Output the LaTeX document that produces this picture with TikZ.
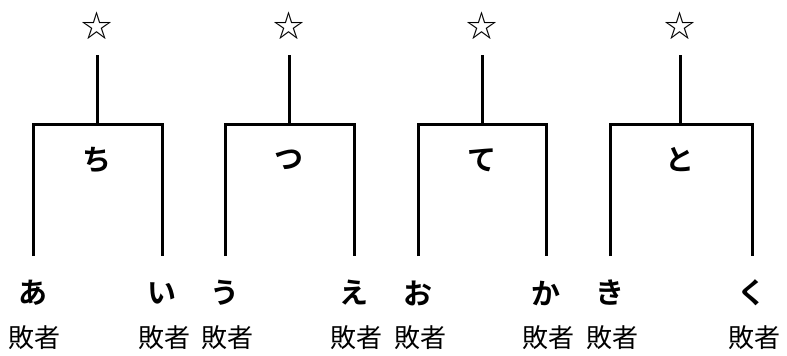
\documentclass[tikz,border=0pt]{standalone}
\usepackage{fontspec}
\newfontfamily\jp{Noto Sans CJK JP}
\newfontfamily\jpbold{Noto Sans CJK JP Bold}
\tikzset{
  kana/.style={font=\jpbold\fontsize{29}{29}\selectfont, inner sep=0pt},
  loser/.style={font=\jp\fontsize{26}{26}\selectfont, inner sep=0pt},
  winner/.style={font=\jp\fontsize{31}{31}\selectfont, inner sep=0pt},
  wire/.style={line width=3pt}
}
\begin{document}
\begin{tikzpicture}[x=1pt, y=-1pt]
  \useasboundingbox (0,0) rectangle (787,356);
  \foreach \l/\r/\s/\w/\a/\b/\i in {33/162/97/ち/あ/い/1, 225/354/289/つ/う/え/2,
      418/546/482/て/お/か/3, 610/752/680/と/き/く/4} {
    % players and losers
    \node[kana] (p\i a) at (\l, 293) {\a};
    \node[kana] (p\i b) at (\r, 293) {\b};
    \node[loser] (l\i a) at (\l+2, 338) {敗者};
    \node[loser] (l\i b) at (\r+2, 338) {敗者};
    % winner of the match and star
    \node[kana] (m\i) at (\s, 160) {\w};
    \node[winner] (s\i) at (\s, 26) {☆};
    \coordinate (ja\i) at (\l, 256);
    \coordinate (jb\i) at (\r, 256);
    \coordinate (top\i) at (\s, 124);
    \coordinate (st\i) at (\s, 55);
    \draw[wire] (ja\i) |- (top\i) -| (jb\i);
    \draw[wire] (top\i) -- (st\i);
  }
\end{tikzpicture}
\end{document}
